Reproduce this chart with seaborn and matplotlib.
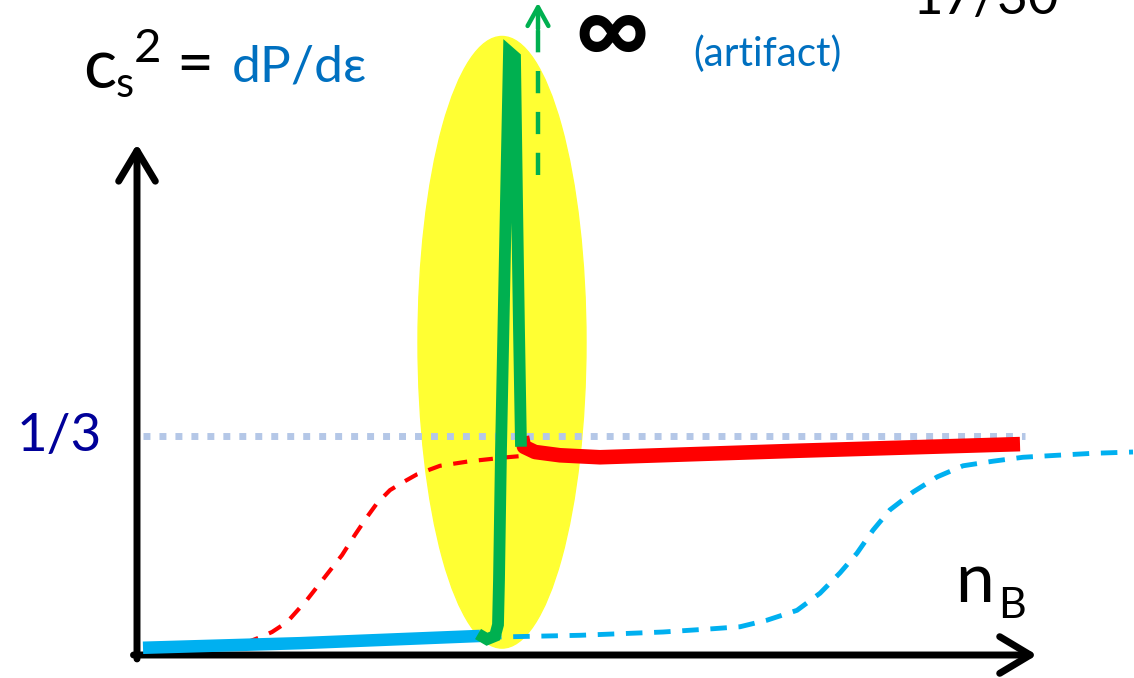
import numpy as np
import pandas as pd
import seaborn as sns
import matplotlib.pyplot as plt
from matplotlib.patches import Ellipse

# -------------------------------
# Data (x = n_B, arbitrary units; y = c_s^2)
# -------------------------------
blue_x = [0.06, 1.63, 3.43]
blue_y = [0.011, 0.018, 0.029]

green_x = [3.41, 3.50, 3.58, 3.61, 3.62, 3.64, 3.66, 3.69, 3.72, 3.78, 3.80, 3.82, 3.84]
green_y = [0.032, 0.024, 0.029, 0.046, 0.114, 0.312, 0.464, 0.693, 0.918, 0.910, 0.693, 0.495, 0.317]

red_x = [3.85, 3.87, 3.98, 4.23, 4.63, 6.63, 8.83]
red_y = [0.332, 0.317, 0.309, 0.304, 0.301, 0.311, 0.321]

red_dash_x = [1.08, 1.23, 1.35, 1.50, 1.70, 1.88, 2.05, 2.18, 2.30, 2.40, 2.53, 2.66,
              2.80, 3.03, 3.33, 3.70, 3.93]
red_dash_y = [0.018, 0.027, 0.035, 0.050, 0.084, 0.119, 0.152, 0.183, 0.210, 0.231, 0.251, 0.263,
              0.275, 0.288, 0.295, 0.301, 0.304]

blue_dash_x = [3.48, 4.43, 5.26, 5.76, 6.03, 6.30, 6.60, 6.83, 7.03, 7.20, 7.36, 7.53,
               7.76, 8.00, 8.26, 8.56, 8.86, 9.20, 9.56, 9.96]
blue_dash_y = [0.027, 0.030, 0.035, 0.040, 0.043, 0.053, 0.068, 0.094, 0.125, 0.155, 0.190, 0.221,
               0.248, 0.271, 0.288, 0.295, 0.301, 0.304, 0.307, 0.309]

conformal_x = [0.06, 8.88]
conformal_y = [1 / 3, 1 / 3]

artifact_x = [4.01, 4.01]
artifact_y = [0.731, 0.955]

# region highlighted (center x, center y, width, height)
highlight = (3.65, 0.476, 1.68, 0.931)

# -------------------------------
# Figure
# -------------------------------
sns.set_theme(style='white')
plt.rcParams['font.family'] = ['Lato', 'DejaVu Sans']

W, H = 1134, 678
fig = plt.figure(figsize=(W / 100, H / 100), dpi=100)
ax = fig.add_axes([0, 0, 1, 1])
ax.set_xlim(-1.37, 9.97)
ax.set_ylim(-0.035, 0.997)
ax.axis('off')

ax.add_patch(Ellipse(highlight[:2], highlight[2], highlight[3], color='#ffff33', zorder=1))

def line(x, y, **kw):
    sns.lineplot(x=x, y=y, ax=ax, sort=False, estimator=None, **kw)

line(conformal_x, conformal_y, color='#b4c7e7', lw=5,
     linestyle=(0, (1, 1.3)), dash_capstyle='butt', zorder=2)
line(red_dash_x, red_dash_y, color='#ff0000', lw=3, linestyle=(0, (3.4, 2.8)), zorder=3)
line(blue_dash_x, blue_dash_y, color='#00b0f0', lw=3.5, linestyle=(0, (3.4, 2.4)), zorder=3)
line(blue_x, blue_y, color='#00b0f0', lw=9, zorder=4, solid_capstyle='butt')
line(red_x, red_y, color='#ff0000', lw=10.5, zorder=4, solid_capstyle='butt')
line(green_x, green_y, color='#00b050', lw=8.5, zorder=5,
     solid_joinstyle='miter', solid_capstyle='butt')

# dashed arrow to infinity
line(artifact_x, artifact_y, color='#00b050', lw=3.2,
     linestyle=(0, (5, 4.2)), dash_capstyle='butt', zorder=5)
ax.annotate('', xy=(4.01, 0.993), xytext=(4.01, 0.953),
            arrowprops=dict(arrowstyle='->,head_length=0.9,head_width=0.5', color='#00b050',
                            lw=3.2, shrinkA=0, shrinkB=0, mutation_scale=15))

# axes with open arrow heads
ax.annotate('', xy=(0, 0.778), xytext=(0, -0.006),
            arrowprops=dict(arrowstyle='->,head_length=1.0,head_width=0.6', color='black',
                            lw=5, shrinkA=0, shrinkB=0, mutation_scale=22))
ax.annotate('', xy=(9.0, 0.0), xytext=(-0.035, 0.0),
            arrowprops=dict(arrowstyle='->,head_length=1.0,head_width=0.6', color='black',
                            lw=5, shrinkA=0, shrinkB=0, mutation_scale=22))

# -------------------------------
# Texts
# -------------------------------
def ptext(px, py, s, **kw):
    fig.text(px / W, 1 - py / H, s, va='baseline', **kw)

ptext(83, 88, 'c', fontsize=50, color='black')
ptext(116, 97, 's', fontsize=30, color='black')
ptext(134, 62, '2', fontsize=34, color='black')
ptext(176, 84, '=', fontsize=46, color='black')
ptext(232, 82, 'dP/dε', fontsize=37, color='#0070c0')

ptext(574, 64, '∞', fontsize=74, color='black', fontweight='bold')
ptext(693, 66, '(artifact)', fontsize=29, color='#0070c0')
ptext(913, 14, '17/30', fontsize=38, color='black')

ptext(17, 451, '1/3', fontsize=38, color='#000099')

ptext(955, 602, 'n', fontsize=50, color='black')
ptext(998, 618, 'B', fontsize=31, color='black')

fig.savefig('out.png', dpi=100)
